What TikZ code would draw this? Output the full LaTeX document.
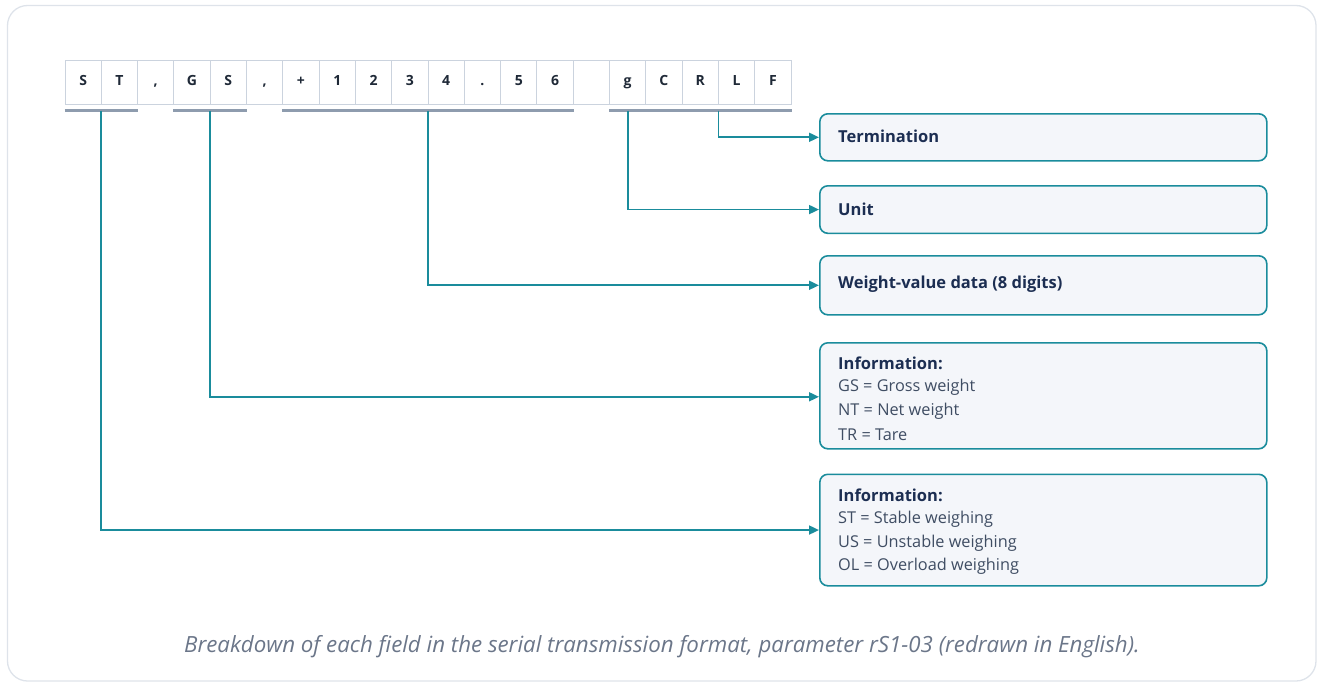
\documentclass[tikz,border=0pt]{standalone}
\usepackage{fontspec}
\setmainfont{Open Sans}
\usetikzlibrary{arrows.meta,calc}
\definecolor{tealc}{HTML}{1A8C9C}
\definecolor{boxfill}{HTML}{F4F6FA}
\definecolor{cellline}{HTML}{CBD3DE}
\definecolor{underc}{HTML}{8E9CAE}
\definecolor{framec}{HTML}{DEE3EA}
\definecolor{titlec}{HTML}{1C2E52}
\definecolor{bodyc}{HTML}{3F4D63}
\definecolor{cellt}{HTML}{1F2937}
\definecolor{capc}{HTML}{6B7689}
\tikzset{
  cellbox/.style={draw=cellline, line width=1pt, fill=white, minimum width=36.3pt, minimum height=44pt, inner sep=0pt, text height=10pt, text depth=3pt, font=\fontsize{14}{15}\selectfont\bfseries, text=cellt},
  fieldbox/.style={draw=tealc, line width=1.6pt, fill=boxfill, rounded corners=8pt, minimum width=447pt, anchor=north west, inner sep=0pt},
  underl/.style={draw=underc, line width=2.2pt},
  conn/.style={draw=tealc, line width=1.8pt, -{Triangle[length=10pt,width=9pt]}},
  ttl/.style={anchor=west, inner sep=0pt, font=\fontsize{16.5}{18}\selectfont\bfseries, text=titlec},
  bdy/.style={anchor=west, inner sep=0pt, font=\fontsize{16.3}{18}\selectfont, text=bodyc}
}
\begin{document}
\begin{tikzpicture}[x=1pt,y=-1pt]
\useasboundingbox (0,0) rectangle (1323,688);
\draw[framec, line width=1.3pt, rounded corners=20pt] (7.5,5.5) rectangle (1316,681);
% cells
\foreach \c [count=\i] in {S,T,{,},G,S,{,},+,1,2,3,4,.,5,6,{},g,C,R,L,F}
  \node[cellbox] (c\i) at ({65+36.3*(\i-0.5)},82) {\c};
% underlines
\path (c1.south west) ++(0,6) coordinate (u1a) (c2.south east) ++(0,6) coordinate (u1b);
\path (c4.south west) ++(0,6) coordinate (u2a) (c5.south east) ++(0,6) coordinate (u2b);
\path (c7.south west) ++(0,6) coordinate (u3a) (c14.south east) ++(0,6) coordinate (u3b);
\path (c16.south west) ++(0,6) coordinate (u4a) (c20.south east) ++(0,6) coordinate (u4b);
\draw[underl] (u1a) -- (u1b);
\draw[underl] (u2a) -- (u2b);
\draw[underl] (u3a) -- (u3b);
\draw[underl] (u4a) -- (u4b);
\coordinate (sST) at ($(u1a)!0.5!(u1b)$);
\coordinate (sGS) at ($(u2a)!0.5!(u2b)$);
\coordinate (sW) at ($(u3a)!0.5!(u3b)$);
\path (c16.south) ++(0,6) coordinate (sU);
\coordinate (sT) at ($(c17.south)!0.5!(c20.south)+(0,6)$);
% boxes
\node[fieldbox, minimum height=47pt] (bT) at (819,113) {};
\node[fieldbox, minimum height=47.5pt] (bU) at (819,185) {};
\node[fieldbox, minimum height=59pt] (bW) at (819,255) {};
\node[fieldbox, minimum height=106pt] (bG) at (819,342) {};
\node[fieldbox, minimum height=111.5pt] (bS) at (819,473.5) {};
% texts
\node[ttl] (tT) at (838,136.5) {Termination};
\node[ttl] (tU) at (838,209) {Unit};
\node[ttl] (tW) at (838,284.5) {Weight-value data (8 digits)};
\node[ttl] (tG0) at (838,363) {Information:};
\node[bdy] (tG1) at (838,387) {GS = Gross weight};
\node[bdy] (tG2) at (838,411) {NT = Net weight};
\node[bdy] (tG3) at (838,435) {TR = Tare};
\node[ttl] (tS0) at (838,495) {Information:};
\node[bdy] (tS1) at (838,519) {ST = Stable weighing};
\node[bdy] (tS2) at (838,543) {US = Unstable weighing};
\node[bdy] (tS3) at (838,566.5) {OL = Overload weighing};
% connectors
\draw[conn] (sT) |- (bT.west);
\draw[conn] (sU) |- (bU.west);
\draw[conn] (sW) |- (bW.west);
\draw[conn] (sGS) |- ($(bG.west)+(0,1)$);
\draw[conn] (sST) |- ($(bS.west)+(0,0)$);
% caption
\node[inner sep=0pt, font=\fontsize{22.3}{24}\selectfont\itshape, text=capc] (cap) at (662,647) {Breakdown of each field in the serial transmission format, parameter rS1-03 (redrawn in English).};
\end{tikzpicture}
\end{document}
